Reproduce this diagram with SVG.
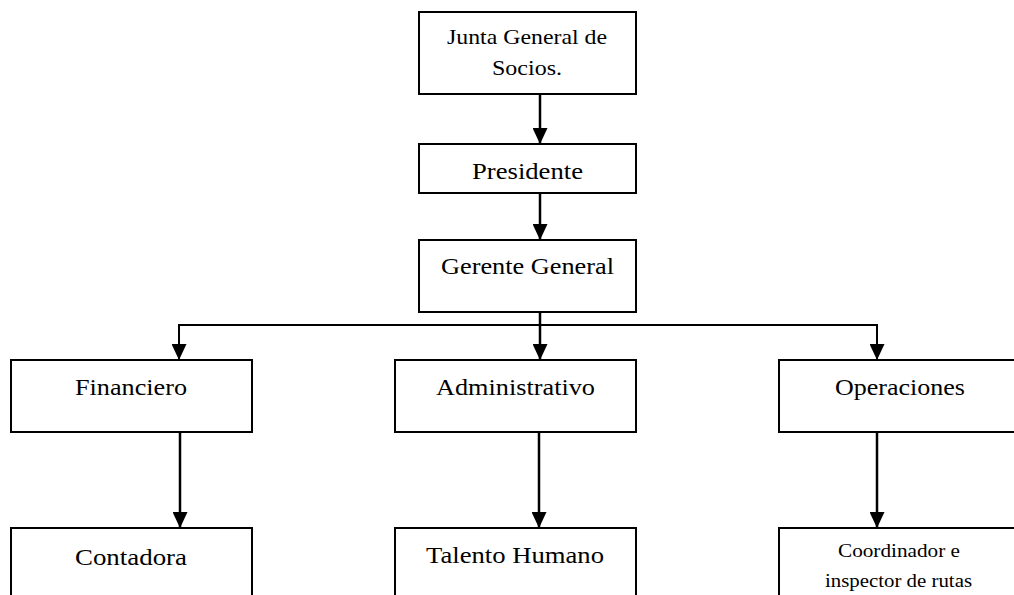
<svg xmlns="http://www.w3.org/2000/svg" width="1014" height="595" viewBox="0 0 1014 595">
<style>
.box{fill:#fff;stroke:#000;stroke-width:2}
.lbl{font-family:"Liberation Serif","Times New Roman",serif;fill:#000;text-anchor:middle}
.conn{fill:none;stroke:#000;stroke-width:2.5}
.br{fill:none;stroke:#000;stroke-width:2}
</style>
<defs>
<marker id="ah" viewBox="0 0 16 15" refX="16" refY="7.5" markerWidth="16" markerHeight="15" markerUnits="userSpaceOnUse" orient="auto">
<path d="M0,0 L16,7.5 L0,15 Z" fill="#000"/>
</marker>
</defs>
<rect width="1014" height="595" fill="#fff"/>
<g id="connectors">
<path class="conn" d="M540 94 V144" marker-end="url(#ah)"/>
<path class="conn" d="M540 193 V240" marker-end="url(#ah)"/>
<path class="conn" d="M540 312 V360" marker-end="url(#ah)"/>
<path class="br" d="M540 325 H179 V360" marker-end="url(#ah)"/>
<path class="br" d="M540 325 H877 V360" marker-end="url(#ah)"/>
<path class="conn" d="M180 432 V528" marker-end="url(#ah)"/>
<path class="conn" d="M539 432 V528" marker-end="url(#ah)"/>
<path class="conn" d="M877 432 V528" marker-end="url(#ah)"/>
</g>
<g id="junta">
<rect class="box" x="419" y="12" width="217" height="82"/>
<text class="lbl" x="527" y="44" font-size="22" textLength="160" lengthAdjust="spacingAndGlyphs">Junta General de</text>
<text class="lbl" x="527" y="75" font-size="22" textLength="70" lengthAdjust="spacingAndGlyphs">Socios.</text>
</g>
<g id="presidente">
<rect class="box" x="419" y="144" width="217" height="49"/>
<text class="lbl" x="527.5" y="179" font-size="24" textLength="111" lengthAdjust="spacingAndGlyphs">Presidente</text>
</g>
<g id="gerente">
<rect class="box" x="419" y="240" width="217" height="72"/>
<text class="lbl" x="527.5" y="274" font-size="24" textLength="173" lengthAdjust="spacingAndGlyphs">Gerente General</text>
</g>
<g id="financiero">
<rect class="box" x="11" y="360" width="241" height="72"/>
<text class="lbl" x="131" y="395" font-size="24" textLength="112" lengthAdjust="spacingAndGlyphs">Financiero</text>
</g>
<g id="administrativo">
<rect class="box" x="395" y="360" width="241" height="72"/>
<text class="lbl" x="515.5" y="395" font-size="24" textLength="159" lengthAdjust="spacingAndGlyphs">Administrativo</text>
</g>
<g id="operaciones">
<rect class="box" x="779" y="360" width="241" height="72"/>
<text class="lbl" x="900" y="395" font-size="24" textLength="130" lengthAdjust="spacingAndGlyphs">Operaciones</text>
</g>
<g id="contadora">
<rect class="box" x="11" y="528" width="241" height="80"/>
<text class="lbl" x="131" y="565" font-size="24" textLength="112" lengthAdjust="spacingAndGlyphs">Contadora</text>
</g>
<g id="talento">
<rect class="box" x="395" y="528" width="241" height="80"/>
<text class="lbl" x="515" y="563" font-size="24" textLength="178" lengthAdjust="spacingAndGlyphs">Talento Humano</text>
</g>
<g id="coordinador">
<rect class="box" x="779" y="528" width="241" height="80"/>
<text class="lbl" x="899" y="557" font-size="18" textLength="122" lengthAdjust="spacingAndGlyphs">Coordinador e</text>
<text class="lbl" x="898.5" y="587" font-size="18" textLength="147" lengthAdjust="spacingAndGlyphs">inspector de rutas</text>
</g>
</svg>
